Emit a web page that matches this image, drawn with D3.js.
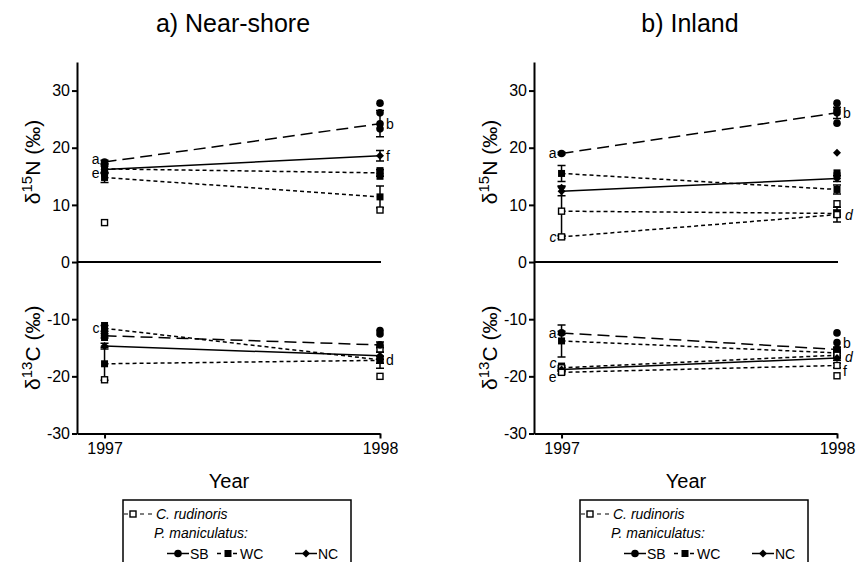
<!DOCTYPE html>
<html>
<head>
<meta charset="utf-8">
<script src="https://cdn.jsdelivr.net/npm/d3@7"></script>
<style>
body{margin:0;background:#fff;}
text{font-family:Arial,"Liberation Sans",sans-serif;fill:#000;}
</style>
</head>
<body>
<svg width="861" height="562"></svg>
<script>
var years = [1997, 1998];
var panelTitles = ["a) Near-shore", "b) Inland"];
var yTicks = [-30, -20, -10, 0, 10, 20, 30];

// means per year (1997, 1998), SE, and letter labels
var nearN = [
  {sp:"SB", v:[17.5, 24.2], se:[0.3, 2.3], lab:["a","b"]},
  {sp:"NC", v:[16.2, 18.6], se:[0.6, 0.9], lab:["e","f"]},
  {sp:"WC", v:[16.3, 15.6], se:[0.8, 0.6]},
  {sp:"WC", v:[14.8, 11.4], se:[0.9, 1.9]}
];
var nearC = [
  {sp:"WC", v:[-11.6, -17.1], se:[0.5, 0.6], lab:["c","d"]},
  {sp:"SB", v:[-12.9, -14.5], se:[0.4, 0.5]},
  {sp:"NC", v:[-14.7, -16.4], se:[0.5, 0.6]},
  {sp:"WC", v:[-17.8, -17.2], se:[2.9, 1.4]}
];
var inN = [
  {sp:"SB", v:[19.0, 26.1], se:[0.2, 1.0], lab:["a","b"]},
  {sp:"WC", v:[15.5, 12.7], se:[1.4, 0.8]},
  {sp:"NC", v:[12.4, 14.6], se:[0.8, 0.5]},
  {sp:"CR", v:[8.9, 8.5], se:[4.4, 0.6]},
  {sp:"CR", v:[4.4, 8.3], se:[0.3, 1.3], lab:["c","d"], it:true}
];
var inC = [
  {sp:"SB", v:[-12.4, -15.3], se:[0.3, 0.4], lab:["a","b"]},
  {sp:"WC", v:[-13.8, -15.9], se:[2.8, 0.5]},
  {sp:"CR", v:[-18.5, -16.3], se:[0.3, 0.4], lab:["c","d"], it:true},
  {sp:"NC", v:[-18.8, -16.8], se:[0.3, 0.4]},
  {sp:"CR", v:[-19.3, -18.1], se:[0.3, 0.4], lab:["e","f"]}
];

// single points not joined by lines
var nearNpts = [
  {sp:"CR", yr:1997, v:6.9}, {sp:"CR", yr:1998, v:9.1},
  {sp:"SB", yr:1998, v:27.8}, {sp:"SB", yr:1998, v:26.1}, {sp:"SB", yr:1998, v:23.3},
  {sp:"WC", yr:1998, v:15.0}, {sp:"WC", yr:1998, v:16.0},
  {sp:"WC", yr:1997, v:15.5}, {sp:"WC", yr:1997, v:16.9}
];
var nearCpts = [
  {sp:"CR", yr:1997, v:-20.6}, {sp:"CR", yr:1998, v:-20.0}, {sp:"CR", yr:1998, v:-15.2},
  {sp:"SB", yr:1998, v:-12.0}, {sp:"SB", yr:1998, v:-12.6},
  {sp:"WC", yr:1997, v:-11.1}, {sp:"WC", yr:1997, v:-12.3}, {sp:"WC", yr:1997, v:-13.2}
];
var inNpts = [
  {sp:"SB", yr:1998, v:27.8}, {sp:"SB", yr:1998, v:26.6}, {sp:"SB", yr:1998, v:24.3},
  {sp:"NC", yr:1998, v:19.1}, {sp:"NC", yr:1997, v:13.0},
  {sp:"WC", yr:1998, v:15.6}, {sp:"WC", yr:1998, v:15.1},
  {sp:"CR", yr:1998, v:10.2}
];
var inCpts = [
  {sp:"SB", yr:1998, v:-12.4}, {sp:"SB", yr:1998, v:-14.1},
  {sp:"CR", yr:1998, v:-19.9}, {sp:"CR", yr:1998, v:-15.4},
  {sp:"WC", yr:1998, v:-16.5}, {sp:"WC", yr:1997, v:-18.2}
];

var legendRow = [{sp:"SB", label:"SB"}, {sp:"WC", label:"WC"}, {sp:"NC", label:"NC"}];

var svg = d3.select("svg");
var y = d3.scaleLinear().domain([-30, 35]).range([433.5, 62]);
var dash = {SB:"12,6", WC:"4,3", CR:"4,3", NC:null};

function marker(g, sp, cx, cy) {
  if (sp == "SB") {
    g.append("circle").attr("cx", cx).attr("cy", cy).attr("r", 3.8).attr("fill", "#000");
  } else if (sp == "WC") {
    g.append("rect").attr("x", cx-3.5).attr("y", cy-3.5).attr("width", 7).attr("height", 7).attr("fill", "#000");
  } else if (sp == "CR") {
    g.append("rect").attr("x", cx-3).attr("y", cy-3).attr("width", 6).attr("height", 6)
      .attr("fill", "#fff").attr("stroke", "#000").attr("stroke-width", 1.4);
  } else {
    g.append("path").attr("d", "M0,-4L4,0L0,4L-4,0Z").attr("fill", "#000")
      .attr("transform", "translate(" + cx + "," + cy + ")");
  }
}

// push letter labels apart so they don't sit on top of each other
function spread(labs, gap) {
  labs.sort(function(a, b) { return a.y - b.y; });
  for (var k = 0; k < 8; k++) {
    for (var i = 1; i < labs.length; i++) {
      var d = labs[i].y - labs[i-1].y;
      if (d < gap) {
        labs[i-1].y -= (gap - d) / 2;
        labs[i].y += (gap - d) / 2;
      }
    }
  }
  return labs;
}

function drawSeries(g, x, data, pts) {
  data.forEach(function(s) {
    g.append("line")
      .attr("x1", x(years[0])).attr("y1", y(s.v[0]))
      .attr("x2", x(years[1])).attr("y2", y(s.v[1]))
      .attr("stroke", "#000").attr("stroke-width", 1.5)
      .attr("stroke-dasharray", dash[s.sp]);
  });
  data.forEach(function(s) {
    years.forEach(function(yr, i) {
      var cx = x(yr), lo = y(s.v[i] - s.se[i]), hi = y(s.v[i] + s.se[i]);
      g.append("path")
        .attr("d", "M" + cx + "," + lo + "V" + hi + "M" + (cx-4) + "," + lo + "H" + (cx+4) + "M" + (cx-4) + "," + hi + "H" + (cx+4))
        .attr("stroke", "#000").attr("stroke-width", 1.5).attr("fill", "none");
    });
  });
  pts.forEach(function(p) { marker(g, p.sp, x(p.yr), y(p.v)); });
  data.forEach(function(s) {
    years.forEach(function(yr, i) { marker(g, s.sp, x(yr), y(s.v[i])); });
  });

  years.forEach(function(yr, i) {
    var labs = data.filter(function(s) { return s.lab; }).map(function(s) {
      return {t: s.lab[i], it: s.it, y: y(s.v[i]) + 5};
    });
    spread(labs, 14).forEach(function(l) {
      g.append("text")
        .attr("x", i == 0 ? x(yr) - 5 : x(yr) + (l.it ? 8 : 6))
        .attr("y", l.y)
        .attr("text-anchor", i == 0 ? "end" : "start")
        .style("font-size", "14px")
        .style("font-style", l.it ? "italic" : "normal")
        .text(l.t);
    });
  });
}

function yLabel(g, px, mass, iso, yc) {
  var t = g.append("text")
    .attr("transform", "translate(" + (px - 37) + "," + yc + ") rotate(-90)")
    .attr("text-anchor", "middle").style("font-size", "21px");
  t.append("tspan").text("\u03b4");
  t.append("tspan").attr("dy", -8).style("font-size", "15px").text(mass);
  t.append("tspan").attr("dy", 8).text(iso + " (\u2030)");
}

function drawPanel(px, title, nData, nPts, cData, cPts) {
  var x = d3.scaleLinear().domain([1996.9, 1998]).range([px, px + 303]);
  var g = svg.append("g");

  g.append("text").attr("x", px + 156).attr("y", 32).attr("text-anchor", "middle")
    .style("font-size", "25px").text(title);

  var ya = g.append("g").attr("transform", "translate(" + px + ",0)")
    .call(d3.axisLeft(y).tickValues(yTicks).tickSize(5).tickSizeOuter(0).tickPadding(2)
      .tickFormat(function(d) { return String(d); }));
  var xa = g.append("g").attr("transform", "translate(0," + y(-30) + ")")
    .call(d3.axisBottom(x).tickValues(years).tickSize(5).tickSizeOuter(0).tickPadding(4)
      .tickFormat(d3.format("d")));
  [ya, xa].forEach(function(a) {
    a.attr("font-family", null).attr("font-size", null);
    a.selectAll("path,line").attr("stroke-width", 2);
    a.selectAll("text").style("font-size", "16px");
  });

  g.append("line").attr("x1", px).attr("x2", px + 304).attr("y1", y(0)).attr("y2", y(0))
    .attr("stroke", "#000").attr("stroke-width", 2);

  yLabel(g, px, "15", "N", y(17.5));
  yLabel(g, px, "13", "C", y(-15));

  g.append("text").attr("x", px + 152).attr("y", 488).attr("text-anchor", "middle")
    .style("font-size", "20px").text("Year");

  drawSeries(g, x, nData, nPts);
  drawSeries(g, x, cData, cPts);

  // legend
  var bx = px + 46;
  var lg = g.append("g");
  lg.append("rect").attr("x", bx).attr("y", 500).attr("width", 228).attr("height", 80)
    .attr("fill", "none").attr("stroke", "#000").attr("stroke-width", 1.5);
  lg.append("line").attr("x1", bx + 1).attr("x2", bx + 29).attr("y1", 514).attr("y2", 514)
    .attr("stroke", "#000").attr("stroke-width", 1.2).attr("stroke-dasharray", "4,4");
  marker(lg, "CR", bx + 10, 514);
  lg.append("text").attr("x", bx + 33).attr("y", 519).style("font-size", "14px")
    .style("font-style", "italic").text("C. rudinoris");
  lg.append("text").attr("x", bx + 31).attr("y", 538).style("font-size", "14px")
    .style("font-style", "italic").text("P. maniculatus:");
  var offs = [44, 94, 172];
  legendRow.forEach(function(d, i) {
    var x0 = bx + offs[i];
    lg.append("line").attr("x1", x0).attr("x2", x0 + 22).attr("y1", 553.5).attr("y2", 553.5)
      .attr("stroke", "#000").attr("stroke-width", 1.5)
      .attr("stroke-dasharray", d.sp == "WC" ? "4,4" : null);
    marker(lg, d.sp, x0 + 11, 553.5);
    lg.append("text").attr("x", x0 + 23).attr("y", 558.5).style("font-size", "14px").text(d.label);
  });
}

drawPanel(77, panelTitles[0], nearN, nearNpts, nearC, nearCpts);
drawPanel(534, panelTitles[1], inN, inNpts, inC, inCpts);
</script>
</body>
</html>
